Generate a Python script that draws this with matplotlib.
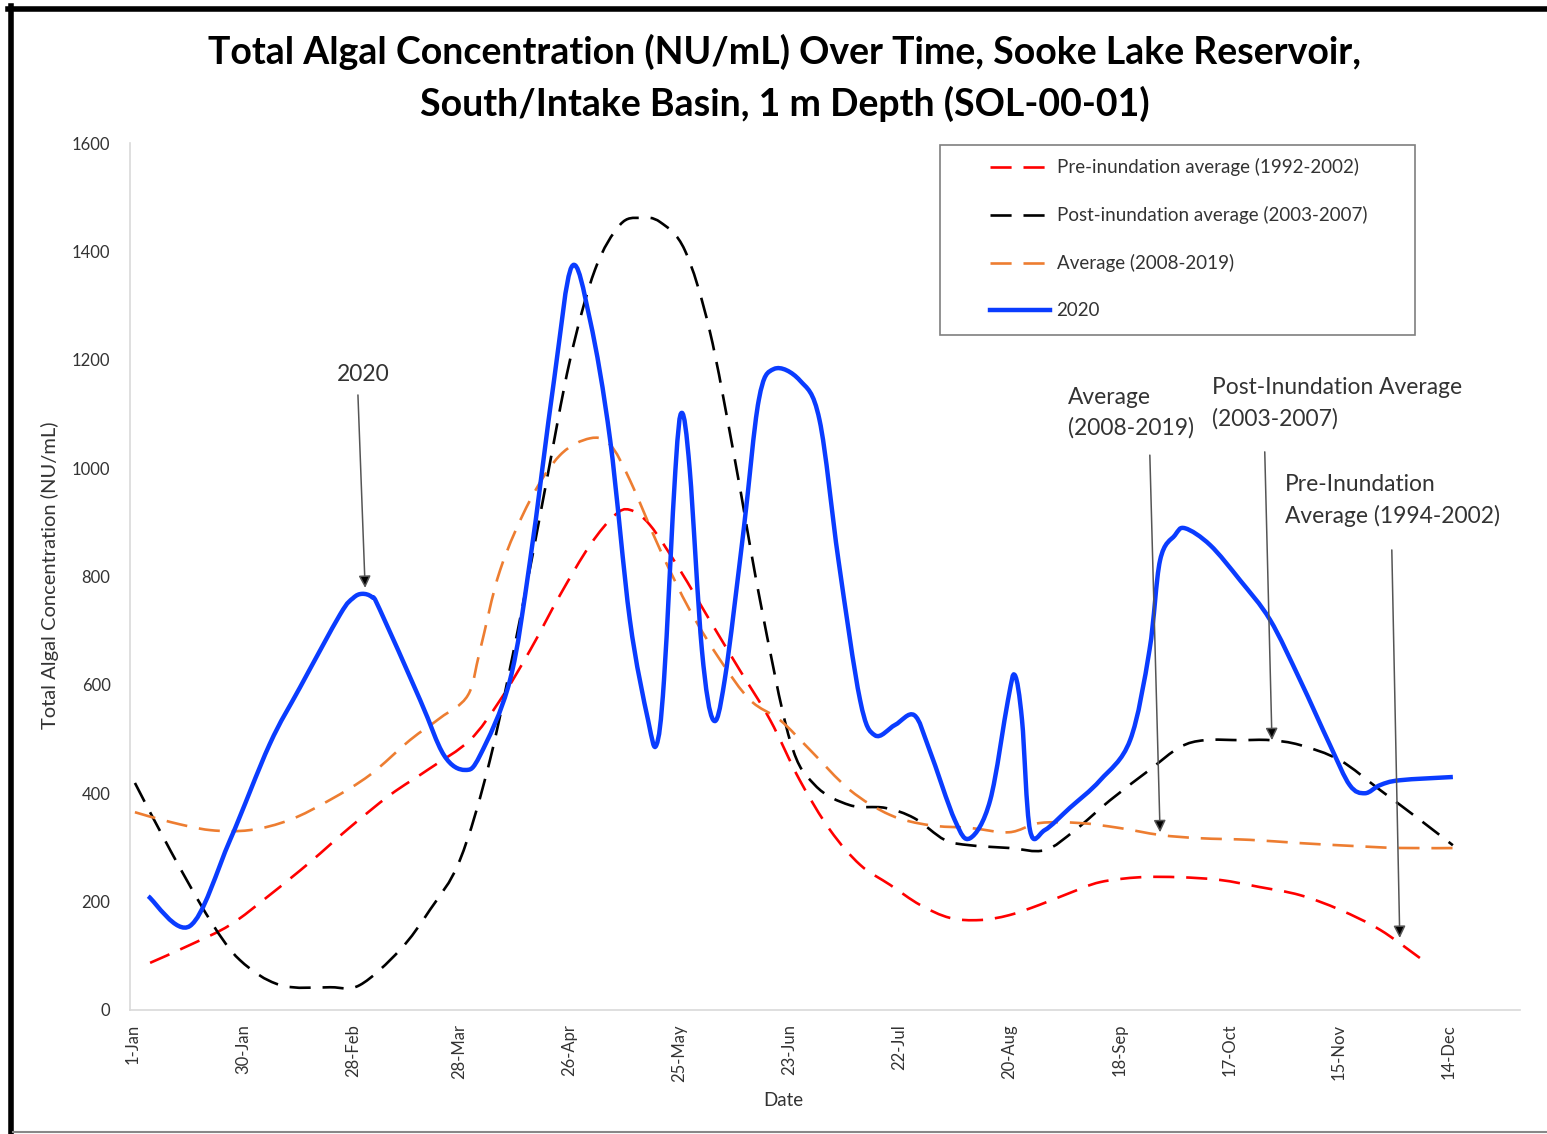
import numpy as np
import matplotlib
matplotlib.use("Agg")
import matplotlib.pyplot as plt
from matplotlib.lines import Line2D
from matplotlib.path import Path
from matplotlib.patches import PathPatch, Rectangle

plt.rcParams['font.family'] = ['Lato', 'DejaVu Sans']

# Day of year (0 = 1-Jan) and concentration values
day_2020 = [4, 15, 25.6, 36, 44, 54.6, 58, 60.4, 63, 65, 75.7, 82, 87.5, 91.5, 99.4,
            104.7, 111, 115.7, 120.5, 125.8, 131, 135.8, 138, 140, 143,
            144.7, 146.8, 150, 153, 156, 161, 165, 169, 175.8, 181, 186, 191.7, 195.6,
            200.9, 206, 210, 216.7, 220.7, 226, 230.7, 232.5, 234.4, 236.5, 240.4, 247,
            255, 262.9, 268, 270.8, 274.7, 277.4, 284, 291.9, 299.8, 307.7, 315.6,
            320.8, 324.8, 328.8, 334, 348]
val_2020 = [210, 155, 314, 490, 595, 730, 760, 768, 762, 740, 572, 470, 443, 470, 609,
            830, 1162, 1372, 1273, 1052, 720, 535, 489, 609, 996,
            1102, 996, 664, 535, 609, 886, 1126, 1183, 1162, 1089, 830, 572, 507,
            526, 544, 480, 350, 317, 387, 572, 618, 535, 332, 332, 373,
            424, 498, 664, 830, 876, 889, 858, 793, 720, 609, 489,
            415, 400, 415, 424, 430]

day_post = [0.5, 9.8, 20.3, 28.2, 38.8, 52, 59.8, 70.4, 78.3, 86.2, 94.1, 102, 108.6,
            115.2, 121.8, 128.4, 133.7, 139, 145.5, 152, 158.7, 165.3, 173.2, 179.8,
            189, 198.3, 206, 214, 220.7, 231, 240.4, 248.4, 257.6, 268, 276, 282.6,
            292, 299.8, 307.7, 318.2, 328.8, 339.3, 348]
val_post = [419, 295, 166, 92, 46, 42, 46, 111, 185, 277, 461, 720, 960,
            1199, 1366, 1449, 1462, 1454, 1402, 1255, 1015, 757, 498, 415,
            378, 373, 354, 314, 304, 299, 295, 332, 387, 443, 485, 498,
            498, 498, 489, 461, 406, 351, 304]

day_avg = [0.5, 9.8, 20.3, 30.8, 41.4, 52, 62.5, 73, 81, 88.3, 91.5, 96.8, 104.7,
           112.6, 120.5, 125.8, 131, 139, 146.8, 154.8, 162.7, 170.6, 178.5, 189,
           199.6, 210, 220.7, 231, 239, 249.7, 260, 270.8, 281.3, 294.5, 307.7,
           320.8, 334, 351]
val_avg = [365, 347, 332, 332, 351, 388, 434, 498, 539, 581, 664, 812, 941,
           1024, 1055, 1043, 978, 849, 738, 646, 572, 535, 480, 406,
           360, 341, 336, 328, 345, 345, 336, 323, 317, 314, 308,
           303, 299, 299]

day_pre = [4.5, 15, 25.6, 36, 46.7, 57, 67.8, 78.3, 88.8, 96.8, 104.7, 112.6, 120.5,
           127, 131, 136.3, 144.2, 152, 160, 168, 175.8, 183.8, 191.7, 199.6, 207.5,
           215.4, 223.3, 231, 239, 247, 255, 265.5, 276, 286.6, 297, 307.7, 318.2,
           328.8, 339.3]
val_pre = [87, 120, 157, 212, 273, 336, 397, 446, 498, 572, 664, 766, 858,
           913, 923, 895, 812, 720, 627, 535, 424, 332, 268, 231, 194,
           170, 166, 175, 194, 216, 236, 245, 245, 240, 227, 212, 185,
           148, 96]

tick_days = [0, 29, 58, 86, 115, 144, 173, 202, 231, 260, 289, 318, 347]
tick_labels = ['1-Jan', '30-Jan', '28-Feb', '28-Mar', '26-Apr', '25-May', '23-Jun',
               '22-Jul', '20-Aug', '18-Sep', '17-Oct', '15-Nov', '14-Dec']


def smooth_path(xs, ys):
    # Excel-style smoothed line: cubic Bezier segments through the points
    pts = np.column_stack([xs, ys]).astype(float)
    n = len(pts)
    verts = [pts[0]]
    codes = [Path.MOVETO]
    for i in range(n - 1):
        p0 = pts[i - 1] if i > 0 else pts[i]
        p1 = pts[i]
        p2 = pts[i + 1]
        p3 = pts[i + 2] if i + 2 < n else pts[i + 1]
        verts += [p1 + (p2 - p0) / 6, p2 - (p3 - p1) / 6, p2]
        codes += [Path.CURVE4] * 3
    return Path(verts, codes)


def main():
    fig = plt.figure(figsize=(15.47, 11.34), dpi=100)
    ax = fig.add_axes([130 / 1547, 1 - 1010 / 1134, 1390 / 1547, 867 / 1134])

    dash = (8, 4.5)
    series = [
        (day_pre, val_pre, '#FF0000', 1.9, dash, 'Pre-inundation average (1992-2002)'),
        (day_post, val_post, 'black', 1.9, dash, 'Post-inundation average (2003-2007)'),
        (day_avg, val_avg, '#ED7D31', 1.9, dash, 'Average (2008-2019)'),
        (day_2020, val_2020, '#0A3CFF', 3.2, None, '2020'),
    ]
    handles = []
    for xs, ys, col, lw, ds, lab in series:
        ls = (0, ds) if ds else '-'
        ax.add_patch(PathPatch(smooth_path(xs, ys), fill=False, edgecolor=col,
                               lw=lw, linestyle=ls, capstyle='butt',
                               joinstyle='round'))
        handles.append(Line2D([], [], color=col, lw=lw, linestyle=ls, label=lab))

    ax.set_xlim(-0.8, 365.7)
    ax.set_ylim(0, 1600)
    ax.set_yticks(range(0, 1601, 200))
    ax.set_xticks(tick_days)
    ax.set_xticklabels(tick_labels, rotation=90)
    ax.tick_params(axis='both', length=0, labelsize=12, colors='#333333')
    ax.tick_params(axis='y', pad=14)
    ax.tick_params(axis='x', pad=10)
    for s in ['top', 'right']:
        ax.spines[s].set_visible(False)
    for s in ['left', 'bottom']:
        ax.spines[s].set_color('#D9D9D9')
        ax.spines[s].set_linewidth(1.2)

    ax.set_xlabel('Date', fontsize=13.5, color='#333333')
    ax.xaxis.label.set_va('center')
    ax.xaxis.set_label_coords((783 - 130) / 1390, (1010 - 1100) / 867)
    ax.set_ylabel('Total Algal Concentration (NU/mL)', fontsize=14.5, color='#333333')
    ax.yaxis.label.set_va('center')
    ax.yaxis.set_label_coords((50 - 130) / 1390, (1010 - 575) / 867)

    # legend box drawn separately so the entries can sit inset like the original
    ax.add_patch(Rectangle(((940 - 130) / 1390, (1010 - 335) / 867), 475 / 1390,
                           190 / 867, transform=ax.transAxes, fill=True,
                           facecolor='white', edgecolor='#7F7F7F', lw=1.2, zorder=4))
    leg = ax.legend(handles=handles, loc='upper left',
                    bbox_to_anchor=((990 - 130) / 1390, (1010 - 158) / 867),
                    fontsize=13.5, handlelength=3.2, handletextpad=0.35,
                    labelspacing=1.6, borderpad=0, borderaxespad=0, frameon=False)
    leg.set_zorder(5)
    for t in leg.get_texts():
        t.set_color('#333333')

    arrow = dict(arrowstyle='-|>', color='#555555', fc='black', lw=1.1,
                 mutation_scale=18, shrinkA=0, shrinkB=0)
    ax.annotate('', xy=(61.2, 779), xytext=(59.3, 1135), arrowprops=arrow)
    ax.annotate('', xy=(270.8, 328), xytext=(268.1, 1024), arrowprops=arrow)
    ax.annotate('', xy=(300.3, 498), xytext=(298.4, 1030), arrowprops=arrow)
    ax.annotate('', xy=(334, 133), xytext=(331.9, 849), arrowprops=arrow)

    tkw = dict(fontsize=16.4, color='#333333', va='center', linespacing=1.55)
    ax.text(60.6, 1172, '2020', ha='center', **tkw)
    ax.text(246.5, 1102, 'Average\n(2008-2019)', ha='left', **tkw)
    ax.text(284.5, 1120, 'Post-Inundation Average\n(2003-2007)', ha='left', **tkw)
    ax.text(303.7, 941, 'Pre-Inundation\nAverage (1994-2002)', ha='left', **tkw)

    fig.text(785 / 1547, 1 - 78 / 1134,
             'Total Algal Concentration (NU/mL) Over Time, Sooke Lake Reservoir,\n'
             'South/Intake Basin, 1 m Depth (SOL-00-01)',
             ha='center', va='center', fontsize=27, fontweight='bold',
             color='black', linespacing=1.5)

    # picture frame
    fig.add_artist(Line2D([10.5 / 1547, 10.5 / 1547], [0, 1 - 6 / 1134],
                          transform=fig.transFigure, color='black', lw=4))
    fig.add_artist(Line2D([8 / 1547, 1], [1 - 9 / 1134, 1 - 9 / 1134],
                          transform=fig.transFigure, color='black', lw=4))
    fig.add_artist(Line2D([13 / 1547, 1], [1 - 1132 / 1134, 1 - 1132 / 1134],
                          transform=fig.transFigure, color='#888888', lw=1.5))

    fig.savefig('out.png', dpi=100)


if __name__ == "__main__":
    main()
